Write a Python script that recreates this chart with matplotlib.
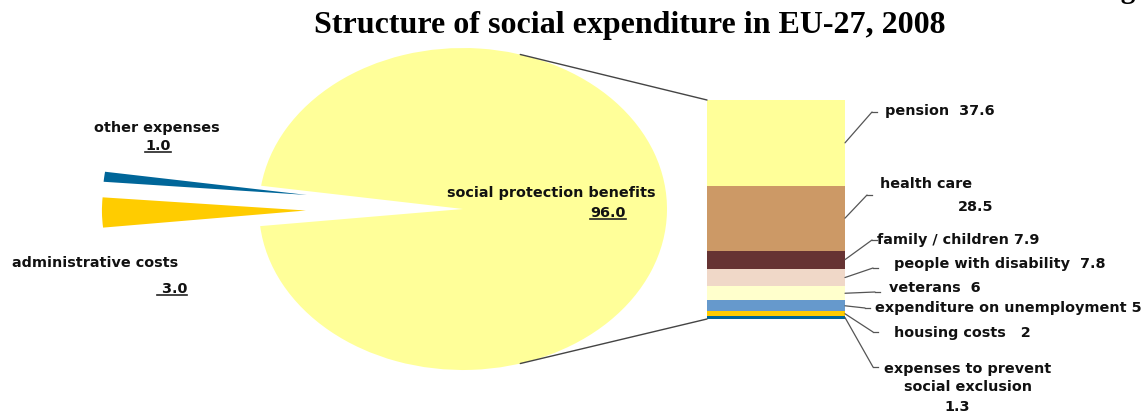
import numpy as np
import matplotlib.pyplot as plt
from matplotlib.patches import ConnectionPatch
from matplotlib.lines import Line2D

# pie: social expenditure split
pie_labels = ["social protection benefits", "other expenses", "administrative costs"]
pie_values = [96.0, 1.0, 3.0]
pie_colors = ["#FFFF99", "#006699", "#FFCC00"]

# bar: breakdown of social protection benefits (top to bottom)
bar_labels = ["pension", "health care", "family / children", "people with disability",
              "veterans", "expenditure on unemployment", "housing costs",
              "expenses to prevent\nsocial exclusion"]
bar_values = [37.6, 28.5, 7.9, 7.8, 6, 5, 2, 1.3]
bar_colors = ["#FFFF99", "#CC9966", "#663333", "#F0D8C8",
              "#FFFFCC", "#6699CC", "#FFCC00", "#006699"]

W, H = 1147, 415
FONT = dict(family="DejaVu Sans", weight="bold", size=10.4, color="#111111")


def fx(x):
    return x / W


def fy(y):
    return 1 - y / H


fig = plt.figure(figsize=(W / 100, H / 100), dpi=100)

# pie drawn in unit coords, stretched into an ellipse by the axes limits
cx, cy, rx, ry = 463, 209, 204, 161
ax_pie = fig.add_axes([0, 0, 1, 1])
ax_pie.pie(pie_values, colors=pie_colors, startangle=-173.9, counterclock=True,
           explode=[0, 0.77, 0.77], radius=1.0, center=(0, 0),
           wedgeprops=dict(linewidth=0))
ax_pie.set_aspect("auto")
ax_pie.set_xlim(-cx / rx, (W - cx) / rx)
ax_pie.set_ylim(-(H - cy) / ry, cy / ry)
ax_pie.axis("off")

# stacked bar
total = sum(bar_values)
ax_bar = fig.add_axes([fx(707), fy(319), fx(845) - fx(707), (319 - 100) / H])
tops = total - np.concatenate([[0], np.cumsum(bar_values)[:-1]])
bottoms = tops - np.array(bar_values)
ax_bar.bar(0, bar_values, bottom=bottoms, width=1.0, color=bar_colors, linewidth=0)
ax_bar.set_xlim(-0.5, 0.5)
ax_bar.set_ylim(0, total)
ax_bar.axis("off")

# lines from pie edge to bar corners
theta = np.deg2rad(73.7)
for sign, ybar in [(1, total), (-1, 0)]:
    con = ConnectionPatch(xyA=(np.cos(theta), sign * np.sin(theta)), coordsA=ax_pie.transData,
                          xyB=(-0.5, ybar), coordsB=ax_bar.transData,
                          color="#444444", linewidth=1.0)
    fig.add_artist(con)

# leader lines: elbow point (px) and label text position (px)
elbows = [(872, 112), (867, 195), (872, 240), (873, 268),
          (875, 292), (865, 308), (873, 332), (873, 367)]
mids = (tops + bottoms) / 2
for (ex, ey), m in zip(elbows, mids):
    con = ConnectionPatch(xyA=(0.5, m), coordsA=ax_bar.transData,
                          xyB=(fx(ex), fy(ey)), coordsB=fig.transFigure,
                          color="#555555", linewidth=0.9)
    fig.add_artist(con)
    fig.add_artist(Line2D([fx(ex), fx(ex + 5)], [fy(ey), fy(ey)],
                          transform=fig.transFigure, color="#555555", linewidth=0.9))

v = [f"{x:g}" for x in bar_values]
fig.text(fx(885), fy(111), f"{bar_labels[0]}  {v[0]}", va="center", **FONT)
fig.text(fx(880), fy(184), bar_labels[1], va="center", **FONT)
fig.text(fx(958), fy(207), v[1], va="center", **FONT)
fig.text(fx(877), fy(240), f"{bar_labels[2]} {v[2]}", va="center", **FONT)
fig.text(fx(894), fy(264), f"{bar_labels[3]}  {v[3]}", va="center", **FONT)
fig.text(fx(889), fy(288), f"{bar_labels[4]}  {v[4]}", va="center", **FONT)
fig.text(fx(875), fy(308), f"{bar_labels[5]} {v[5]}", va="center", **FONT)
fig.text(fx(894), fy(333), f"{bar_labels[6]}   {v[6]}", va="center", **FONT)
fig.text(fx(968), fy(378), bar_labels[7], va="center", ha="center",
         multialignment="center", linespacing=1.3, **FONT)
fig.text(fx(957), fy(407), v[7], va="center", ha="center", **FONT)

# pie labels with underlined values
fig.text(fx(551), fy(193), pie_labels[0], va="center", ha="center", **FONT)
fig.text(fx(157), fy(128), pie_labels[1], va="center", ha="center", **FONT)
fig.text(fx(95), fy(263), pie_labels[2], va="center", ha="center", **FONT)
underlined = [
    fig.text(fx(608), fy(213), f"{pie_values[0]:.1f}", va="center", ha="center", **FONT),
    fig.text(fx(158), fy(146), f"{pie_values[1]:.1f}", va="center", ha="center", **FONT),
    fig.text(fx(172), fy(289), f" {pie_values[2]:.1f}", va="center", ha="center", **FONT),
]

fig.text(fx(630), fy(26), "Structure of social expenditure in EU-27, 2008",
         ha="center", va="center", family="Liberation Serif", weight="bold", size=23)
fig.text(fx(1136), 1.006, "Fig", ha="right", va="baseline",
         family="Liberation Serif", weight="bold", size=21)

fig.canvas.draw()
renderer = fig.canvas.get_renderer()
inv = fig.transFigure.inverted()
for t in underlined:
    bb = t.get_window_extent(renderer)
    (x0, y0), (x1, _) = inv.transform([(bb.x0, bb.y0 + 1), (bb.x1, bb.y0 + 1)])
    fig.add_artist(Line2D([x0, x1], [y0, y0], transform=fig.transFigure,
                          color="#222222", linewidth=1.2))

fig.savefig("out.png", dpi=100)
